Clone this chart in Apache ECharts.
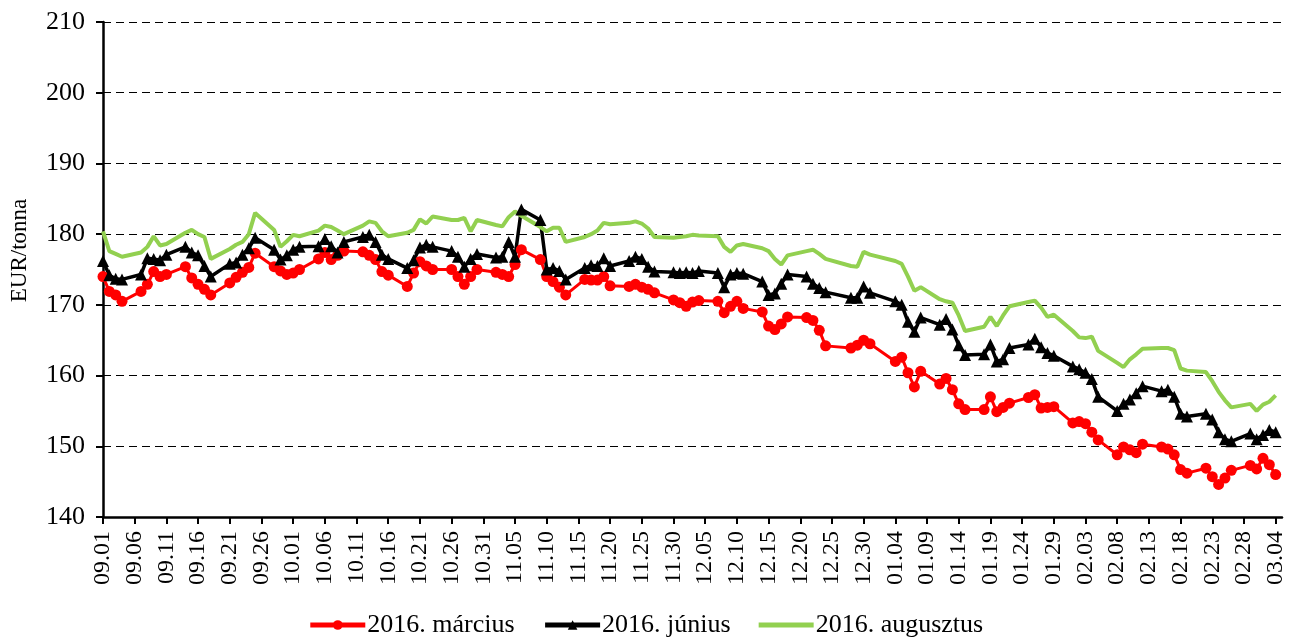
<!DOCTYPE html>
<html>
<head>
<meta charset="utf-8">
<script src="https://cdn.jsdelivr.net/npm/echarts@6/dist/echarts.min.js"></script>
<style>
html, body { margin: 0; padding: 0; background: #fff; }
#chart { width: 1291px; height: 638px; }
</style>
</head>
<body>
<div id="chart"></div>
<script>
// kereskedési napok (MM.DD), 2015.09.01 - 2016.03.04
var tradingDays = [
    "09.01","09.02","09.03","09.04","09.07","09.08","09.09","09.10","09.11","09.14","09.15",
    "09.16","09.17","09.18","09.21","09.22","09.23","09.24","09.25","09.28","09.29","09.30",
    "10.01","10.02","10.05","10.06","10.07","10.08","10.09","10.12","10.13","10.14","10.15",
    "10.16","10.19","10.20","10.21","10.22","10.23","10.26","10.27","10.28","10.29","10.30",
    "11.02","11.03","11.04","11.05","11.06","11.09","11.10","11.11","11.12","11.13","11.16",
    "11.17","11.18","11.19","11.20","11.23","11.24","11.25","11.26","11.27","11.30",
    "12.01","12.02","12.03","12.04","12.07","12.08","12.09","12.10","12.11","12.14","12.15",
    "12.16","12.17","12.18","12.21","12.22","12.23","12.24","12.28","12.29","12.30","12.31",
    "01.04","01.05","01.06","01.07","01.08","01.11","01.12","01.13","01.14","01.15",
    "01.18","01.19","01.20","01.21","01.22","01.25","01.26","01.27","01.28","01.29",
    "02.01","02.02","02.03","02.04","02.05","02.08","02.09","02.10","02.11","02.12","02.15",
    "02.16","02.17","02.18","02.19","02.22","02.23","02.24","02.25","02.26","02.29",
    "03.01","03.02","03.03","03.04"
];

var marcius = [
    174.0,171.9,171.4,170.5,171.9,172.9,174.7,174.0,174.3,175.4,173.8,
    172.9,172.2,171.4,173.1,173.9,174.6,175.3,177.3,175.4,174.8,174.3,
    174.5,175.0,176.5,177.4,176.4,177.0,177.6,177.5,177.0,176.4,174.7,
    174.2,172.6,174.5,176.1,175.5,175.0,175.0,174.0,172.9,174.0,175.0,
    174.6,174.3,174.0,175.7,177.8,176.4,174.0,173.3,172.5,171.4,173.6,
    173.5,173.5,174.0,172.7,172.6,172.9,172.5,172.2,171.7,170.7,
    170.3,169.8,170.4,170.6,170.5,168.9,169.8,170.5,169.5,169.0,167.0,
    166.5,167.3,168.3,168.2,167.8,166.4,164.2,163.9,164.3,165.0,164.5,
    162.0,162.6,160.4,158.4,160.6,158.8,159.6,158.0,156.0,155.2,
    155.2,157.0,154.9,155.5,156.1,156.9,157.3,155.4,155.5,155.6,
    153.3,153.5,153.2,152.0,150.9,148.8,149.9,149.5,149.1,150.3,149.9,
    149.6,148.8,146.7,146.2,146.9,145.7,144.6,145.5,146.6,147.3,
    146.8,148.3,147.4,146.0
];

var junius = [
    176.2,174.2,173.7,173.6,174.3,176.6,176.5,176.3,177.1,178.2,177.4,
    177.0,175.5,174.0,175.8,176.0,177.1,178.0,179.5,177.8,176.4,177.0,
    177.8,178.2,178.3,179.3,178.3,177.4,178.9,179.6,179.9,178.9,177.1,
    176.5,175.2,176.3,178.1,178.5,178.2,177.6,176.8,175.4,176.5,177.2,
    176.7,176.8,178.9,176.8,183.5,182.0,175.0,175.2,174.8,173.6,175.2,
    175.6,175.5,176.6,175.5,176.2,176.8,176.5,175.4,174.7,174.6,
    174.5,174.6,174.5,174.8,174.5,172.5,174.3,174.5,174.4,173.3,171.4,
    171.6,173.0,174.3,174.0,173.0,172.4,171.8,171.0,171.0,172.6,171.7,
    170.5,170.0,167.6,166.2,168.2,167.2,168.0,166.5,164.3,162.9,
    163.0,164.4,162.0,162.3,163.9,164.4,165.2,164.0,163.2,162.8,
    161.3,160.9,160.4,159.5,157.0,155.0,156.0,156.6,157.5,158.5,157.8,
    158.0,157.0,154.6,154.2,154.6,153.8,152.0,151.0,150.7,151.8,
    151.0,151.6,152.3,152.0
];

var augusztus = [
    180.4,177.6,177.2,176.8,177.4,178.2,179.7,178.4,178.6,180.2,180.6,
    180.0,179.6,176.5,177.9,178.5,178.9,180.0,183.0,180.6,178.2,179.0,
    179.9,179.7,180.5,181.2,181.0,180.5,180.0,181.2,181.8,181.6,180.4,
    179.7,180.2,180.6,182.1,181.5,182.5,182.0,182.0,182.3,180.4,182.0,
    181.3,181.1,182.4,183.2,182.6,181.0,180.4,180.9,180.9,178.9,179.6,
    180.0,180.5,181.6,181.4,181.6,181.8,181.5,180.8,179.6,179.5,
    179.6,179.7,179.9,179.8,179.7,178.2,177.5,178.4,178.6,178.0,177.6,
    176.5,175.7,177.0,177.6,177.8,177.2,176.5,175.5,175.4,177.5,177.1,
    176.2,175.8,174.0,172.0,172.5,170.8,170.5,170.3,168.5,166.3,
    166.9,168.3,167.0,168.5,169.8,170.4,170.6,169.6,168.3,168.6,
    166.3,165.4,165.3,165.5,163.5,161.8,161.2,162.3,163.0,163.8,163.9,
    163.9,163.6,161.0,160.7,160.5,159.2,157.7,156.5,155.5,156.0,
    155.0,155.9,156.3,157.2
];

var seriesNames = ["2016. március", "2016. június", "2016. augusztus"];
var yTicks = { min: 140, max: 210, step: 10 };

// naptári napok a tengelyhez (09.01 - 03.05)
var days = [];
var d = new Date(2015, 8, 1);
var end = new Date(2016, 2, 5);
while (d <= end) {
    var mm = ("0" + (d.getMonth() + 1)).slice(-2);
    var dd = ("0" + d.getDate()).slice(-2);
    days.push(mm + "." + dd);
    d.setDate(d.getDate() + 1);
}

function spread(values) {
    var out = [];
    for (var i = 0; i < days.length; i++) out.push(null);
    for (var j = 0; j < tradingDays.length; j++) {
        out[days.indexOf(tradingDays[j])] = values[j];
    }
    return out;
}

var font = "'Liberation Serif', 'Times New Roman', serif";
var every5 = function (idx) { return idx % 5 === 0; };

var chart = echarts.init(document.getElementById("chart"));
var option = {
    animation: false,
    grid: { left: 102, right: 9, top: 22, bottom: 121 },
    legend: {
        bottom: -5,
        left: "center",
        itemWidth: 55,
        itemHeight: 12,
        itemGap: 28,
        textStyle: { fontFamily: font, fontSize: 26, color: "#000", padding: [0, 0, 0, -3] },
        data: [
            { name: seriesNames[0], lineStyle: { width: 5 } },
            { name: seriesNames[1], lineStyle: { width: 5 } },
            { name: seriesNames[2], icon: "path://M0,0 L55,0 L55,5 L0,5 Z" }
        ]
    },
    xAxis: {
        type: "category",
        data: days,
        boundaryGap: false,
        axisLine: { lineStyle: { color: "#000", width: 2.5 } },
        axisTick: { interval: every5, length: 7, lineStyle: { color: "#000", width: 2 } },
        axisLabel: {
            interval: every5,
            rotate: 90,
            margin: 14,
            fontFamily: font,
            fontSize: 24,
            color: "#000"
        },
        splitLine: { show: false }
    },
    yAxis: {
        type: "value",
        min: yTicks.min,
        max: yTicks.max,
        interval: yTicks.step,
        name: "EUR/tonna",
        nameLocation: "middle",
        nameGap: 72,
        nameTextStyle: { fontFamily: font, fontSize: 23, color: "#000", padding: [0, 0, 0, 38] },
        axisLine: { show: true, lineStyle: { color: "#000", width: 2.5 } },
        axisTick: { show: true, length: 7, lineStyle: { color: "#000", width: 2 } },
        axisLabel: { fontFamily: font, fontSize: 26, color: "#000", margin: 18 },
        splitLine: { lineStyle: { color: "#000", width: 1.2, type: [8, 5] } }
    },
    series: [
        {
            name: seriesNames[0],
            type: "line",
            data: spread(marcius),
            connectNulls: true,
            showAllSymbol: true,
            symbol: "circle",
            symbolSize: 11,
            itemStyle: { color: "#ff0000" },
            lineStyle: { color: "#ff0000", width: 3 }
        },
        {
            name: seriesNames[1],
            type: "line",
            data: spread(junius),
            connectNulls: true,
            showAllSymbol: true,
            symbol: "triangle",
            symbolSize: 12,
            itemStyle: { color: "#000" },
            lineStyle: { color: "#000", width: 3.5 }
        },
        {
            name: seriesNames[2],
            type: "line",
            data: spread(augusztus),
            connectNulls: true,
            symbol: "none",
            itemStyle: { color: "#92d050" },
            lineStyle: { color: "#92d050", width: 4 }
        }
    ]
};
chart.setOption(option);
</script>
</body>
</html>
